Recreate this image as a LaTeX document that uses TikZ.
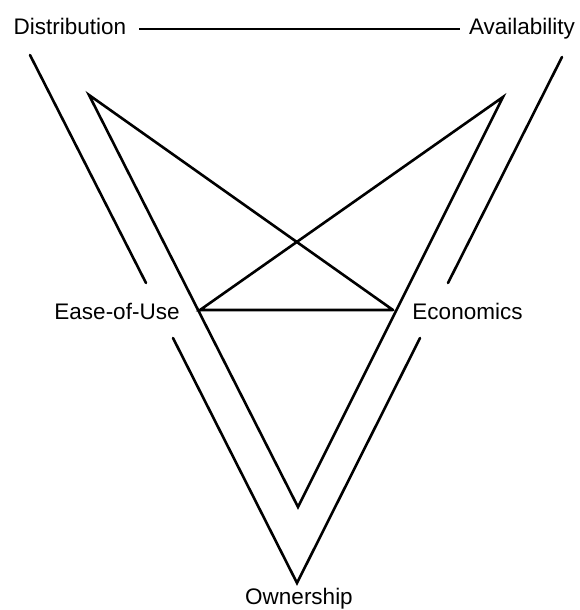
\documentclass[tikz,border=0pt]{standalone}
\usepackage{fontspec}
\setmainfont{Liberation Sans}
\begin{document}
\begin{tikzpicture}[x=1pt,y=-1pt,
  lbl/.style={font=\fontsize{22.5}{24}\selectfont, inner sep=0pt, anchor=base},
  ln/.style={line width=2.6pt, line cap=round, line join=miter}]
\useasboundingbox (0,0) rectangle (579,610);
% labels
\node[lbl] (dist) at (70,35) {Distribution};
\node[lbl] (avail) at (522,35) {Availability};
\node[lbl] (ease) at (117,319) {Ease-of-Use};
\node[lbl] (econ) at (467.5,319) {Economics};
\node[lbl] (own) at (299,604) {Ownership};
% outer V points
\coordinate (o1) at (30,55);
\coordinate (o2) at (146,283);
\coordinate (o3) at (173,338);
\coordinate (ov) at (297,583);
\coordinate (o4) at (420,338);
\coordinate (o5) at (448,283);
\coordinate (o6) at (562,57);
% inner points
\coordinate (A) at (89,95);
\coordinate (B) at (503,97);
\coordinate (E) at (200,310);
\coordinate (C) at (393,310);
\coordinate (V) at (298,507);
% top line
\draw[ln,line cap=butt] ([xshift=13pt,yshift=6pt]dist.base east) -- ([xshift=-9pt,yshift=6pt]avail.base west);
% outer
\draw[ln] (o1) -- (o2);
\draw[ln] (o3) -- (ov) -- (o4);
\draw[ln] (o5) -- (o6);
% inner
\draw[ln] (C) -- (A) -- (V) -- (B) -- (E) -- (C);
\end{tikzpicture}
\end{document}
